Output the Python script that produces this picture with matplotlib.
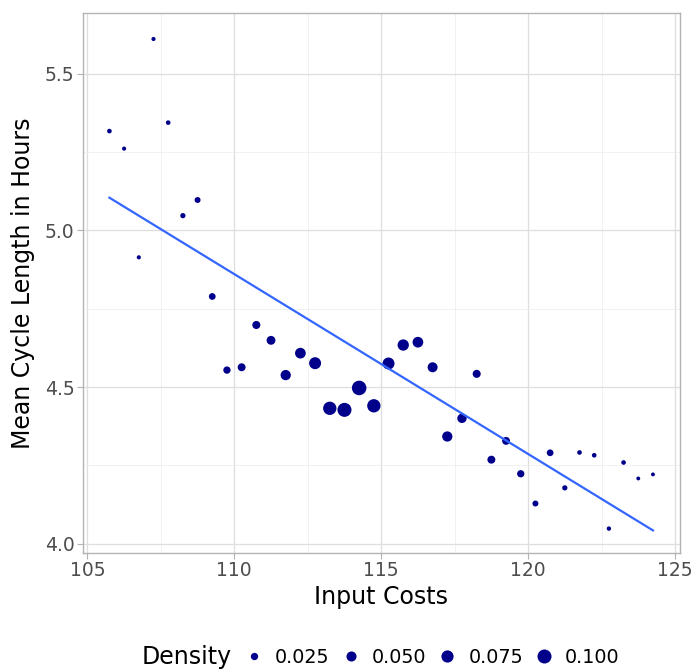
import numpy as np
import matplotlib
matplotlib.use("Agg")
import matplotlib.pyplot as plt
from matplotlib.lines import Line2D

# values
input_costs = [105.75, 106.25, 106.75, 107.25, 107.75, 108.25, 108.75, 109.25,
               109.75, 110.25, 110.75, 111.25, 111.75, 112.25, 112.75, 113.25,
               113.75, 114.25, 114.75, 115.25, 115.75, 116.25, 116.75, 117.25,
               117.75, 118.25, 118.75, 119.25, 119.75, 120.25, 120.75, 121.25,
               121.75, 122.25, 122.75, 123.25, 123.75, 124.25]
cycle_hours = [5.317, 5.261, 4.914, 5.611, 5.344, 5.047, 5.097, 4.789,
               4.554, 4.563, 4.698, 4.649, 4.538, 4.608, 4.576, 4.432,
               4.427, 4.497, 4.440, 4.575, 4.634, 4.643, 4.563, 4.342,
               4.400, 4.542, 4.268, 4.328, 4.223, 4.128, 4.290, 4.178,
               4.291, 4.282, 4.048, 4.259, 4.208, 4.221]
density = [0.009, 0.007, 0.007, 0.007, 0.009, 0.012, 0.016, 0.021,
           0.025, 0.030, 0.031, 0.038, 0.052, 0.057, 0.072, 0.090,
           0.100, 0.108, 0.090, 0.072, 0.064, 0.057, 0.049, 0.052,
           0.043, 0.031, 0.030, 0.030, 0.025, 0.016, 0.021, 0.012,
           0.009, 0.009, 0.008, 0.009, 0.006, 0.006]
legend_breaks = [0.025, 0.050, 0.075, 0.100]
legend_labels = ["0.025", "0.050", "0.075", "0.100"]


def diam_pt(d):
    # diameter in points, sqrt-area style scale
    return (0.6 + 42.4 * np.sqrt(d)) * 0.72


x = np.array(input_costs)
y = np.array(cycle_hours)
d = np.array(density)

fig = plt.figure(figsize=(6.95, 6.7), dpi=100)
ax = fig.add_axes([0.1194, 0.1746, 0.859, 0.806])

ax.scatter(x, y, s=diam_pt(d) ** 2, color="#00008B", linewidths=0, zorder=3)

# least squares line
slope, icpt = np.polyfit(x, y, 1)
xs = np.array([x.min(), x.max()])
ax.plot(xs, icpt + slope * xs, color="#3366FF", lw=1.6, zorder=4)

ax.set_xlim(104.85, 125.17)
ax.set_ylim(3.97, 5.694)
ax.set_xticks([105, 110, 115, 120, 125])
ax.set_yticks([4.0, 4.5, 5.0, 5.5])
ax.set_yticklabels(["4.0", "4.5", "5.0", "5.5"])
ax.set_xticks([107.5, 112.5, 117.5, 122.5], minor=True)
ax.set_yticks([4.25, 4.75, 5.25], minor=True)
ax.grid(which="major", color="#DEDEDE", lw=0.9)
ax.grid(which="minor", color="#EBEBEB", lw=0.5)
ax.set_axisbelow(True)
for s in ax.spines.values():
    s.set_color("#B3B3B3")
    s.set_linewidth(1.0)
ax.tick_params(which="major", length=4, width=0.8, color="#B3B3B3",
               labelsize=13.5, labelcolor="#4D4D4D", pad=2)
ax.tick_params(which="minor", length=0)

ax.set_xlabel("Input Costs", fontsize=17, labelpad=3)
ax.set_ylabel("Mean Cycle Length in Hours", fontsize=17, labelpad=7)

handles = [Line2D([], [], ls="none", marker="o", markersize=diam_pt(b),
                  markerfacecolor="#00008B", markeredgewidth=0)
           for b in legend_breaks]
fig.legend(handles, legend_labels, loc="center left",
           bbox_to_anchor=(0.3517, 0.0194), ncol=4, frameon=False,
           fontsize=13.8, handlelength=1.0, handletextpad=0.6,
           columnspacing=0.6, borderpad=0, borderaxespad=0)
fig.text(0.2043, 0.0194, "Density", fontsize=17, va="center", ha="left")

fig.savefig("out.png", dpi=100)
